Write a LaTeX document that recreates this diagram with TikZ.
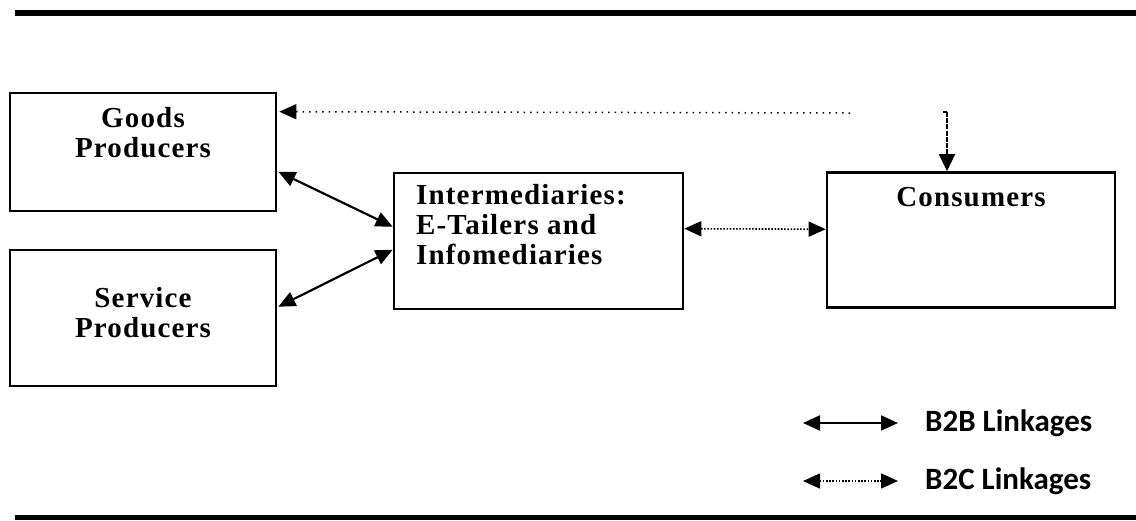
\documentclass[tikz,border=0pt]{standalone}
\usepackage{fontspec}
\setmainfont{Liberation Serif}[LetterSpace=4]
\newfontfamily\legendfont{Carlito}
\usetikzlibrary{arrows.meta,calc}
\begin{document}
\begin{tikzpicture}[x=1pt,y=-1pt,
  box/.style={draw,line width=2.6pt,inner sep=0pt,rectangle},
  lbl/.style={font=\fontsize{29}{30}\selectfont\bfseries,inner sep=0pt,align=center},
  b2b/.style={line width=2.2pt,{Triangle[length=17pt,width=15pt]}-{Triangle[length=17pt,width=15pt]}},
  b2c/.style={line width=1.6pt,dash pattern=on 1.6pt off 1.6pt,{Triangle[length=17pt,width=15pt]}-{Triangle[length=17pt,width=15pt]}},
  leg/.style={font=\fontsize{31}{32}\selectfont\legendfont\bfseries,inner sep=0pt,anchor=west},
  rulebar/.style={line width=6pt}]
\useasboundingbox (0,0) rectangle (1136,520);
\draw[rulebar] (15,13) -- (1136,13);
\draw[line width=5pt] (15,517) -- (1136,517);
% boxes
\node[box,minimum width=266pt,minimum height=118pt] (goods) at (143,152) {};
\node[box,minimum width=266pt,minimum height=136pt] (serv) at (143,318) {};
\node[box,minimum width=289pt,minimum height=136pt] (inter) at (538.5,241) {};
\node[box,minimum width=288pt,minimum height=135pt] (cons) at (971,240) {};
% texts
\node[lbl] (goodst) at (143,133) {Goods\\Producers};
\node[lbl] (servt) at (143,313) {Service\\Producers};
\node[lbl,align=left,anchor=north west] (intert) at (416,184) {Intermediaries:\\E-Tailers and\\Infomediaries};
\node[lbl] (const) at (971,197) {Consumers};
% B2B links
\draw[b2b] ($(goods.north east)+(1,80)$) -- ($(inter.north west)+(0,55)$);
\draw[b2b] ($(serv.north east)+(1,58)$) -- ($(inter.north west)+(0,78)$);
% B2C link
\draw[b2c] ($(inter.north east)+(0,57)$) -- ($(cons.north west)+(0,58)$);
% top feedback
\coordinate (dotend) at (850,113);
\coordinate (vtop) at (947,112);
\draw[line width=1.5pt,dash pattern=on 1.5pt off 5pt,-{Triangle[length=17pt,width=15pt]}] (dotend) -- ($(goods.north east)+(2,20)$);
\draw[line width=1.3pt] ($(vtop)+(-4,0)$) -- (vtop);
\draw[line width=1.3pt,dash pattern=on 5pt off 1.2pt,-{Triangle[length=17pt,width=16pt]}] (vtop) -- (cons.north west -| vtop);
% legend
\coordinate (l1a) at (803,423);
\coordinate (l1b) at (898,423);
\coordinate (l2a) at (803,481);
\coordinate (l2b) at (898,481);
\draw[b2b] (l1a) -- (l1b);
\draw[b2c] (l2a) -- (l2b);
\node[leg] (legb2b) at (925,423) {B2B Linkages};
\node[leg] (legb2c) at (925,481) {B2C Linkages};
\end{tikzpicture}
\end{document}
